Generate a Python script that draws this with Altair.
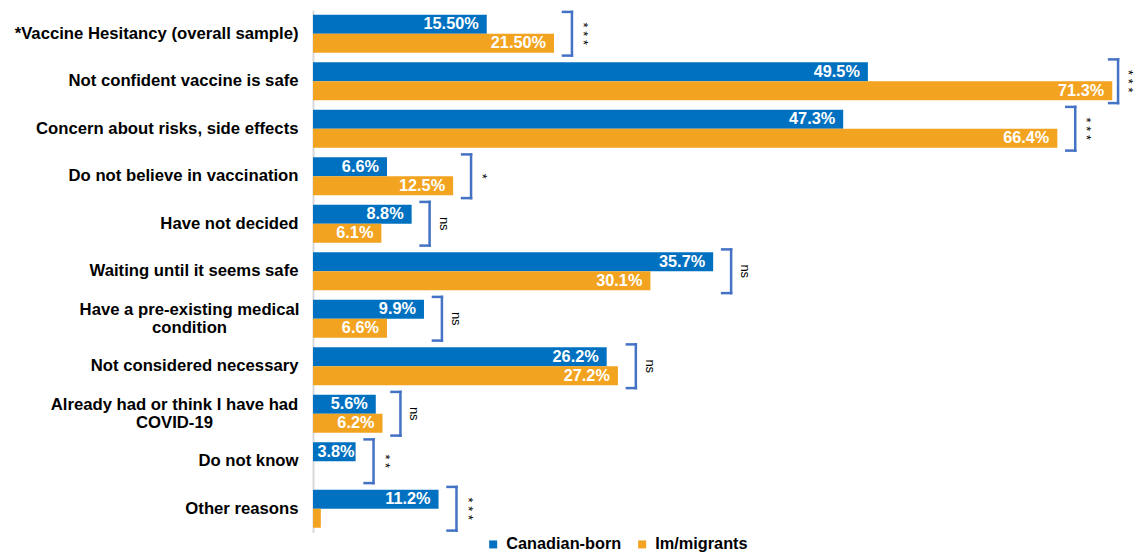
import altair as alt
import pandas as pd

categories = [
    "*Vaccine Hesitancy (overall sample)",
    "Not confident vaccine is safe",
    "Concern about risks, side effects",
    "Do not believe in vaccination",
    "Have not decided",
    "Waiting until it seems safe",
    "Have a pre-existing medical|condition",
    "Not considered necessary",
    "Already had or think I have had|COVID-19",
    "Do not know",
    "Other reasons",
]
series = ["Canadian-born", "Im/migrants"]
canadian_born = [15.5, 49.5, 47.3, 6.6, 8.8, 35.7, 9.9, 26.2, 5.6, 3.8, 11.2]
immigrants = [21.5, 71.3, 66.4, 12.5, 6.1, 30.1, 6.6, 27.2, 6.2, None, 0.7]
canadian_labels = ["15.50%", "49.5%", "47.3%", "6.6%", "8.8%", "35.7%", "9.9%", "26.2%", "5.6%", "3.8%", "11.2%"]
immigrant_labels = ["21.50%", "71.3%", "66.4%", "12.5%", "6.1%", "30.1%", "6.6%", "27.2%", "6.2%", "", ""]
significance = ["***", "***", "***", "*", "ns", "ns", "ns", "ns", "ns", "**", "***"]

BLUE = "#0070C0"
ORANGE = "#F2A31F"
BRACKET = "#4472C4"
FONT = "Liberation Sans"
XMAX = 73.42

rows = []
for i, c in enumerate(categories):
    for s, vals, labs in ((series[0], canadian_born, canadian_labels), (series[1], immigrants, immigrant_labels)):
        v = vals[i]
        if v is None:
            continue
        rows.append({"category": c, "series": s, "value": v, "label": labs[i]})
bars_df = pd.DataFrame(rows)
wide_df = bars_df[bars_df["value"] >= 4.5]
narrow_df = bars_df[bars_df["value"] < 4.5]

brk = []
for i, c in enumerate(categories):
    vals = [v for v in (canadian_born[i], immigrants[i]) if v is not None]
    sig = significance[i]
    gap = 1.0 if sig.startswith("*") else 1.25
    bx = max(vals) + 1.6
    tx = bx + gap
    if tx > XMAX - 0.7:  # keep the annotation inside the drawing
        tx = XMAX - 0.7
        bx = tx - 0.9
    txt = " ".join(list(sig)) if sig.startswith("*") else sig
    brk.append({"category": c, "bx": bx, "bl": bx - 0.8, "tx": tx, "sig": txt})
brk_df = pd.DataFrame(brk)

two_line_a = categories[6]
two_line_b = categories[8]


def ycat(bp=None):
    kw = {}
    if bp is not None:
        kw["bandPosition"] = bp
    return alt.Y(
        "category:N",
        sort=categories,
        scale=alt.Scale(paddingInner=0, paddingOuter=0),
        axis=alt.Axis(
            title=None,
            ticks=False,
            labelExpr="split(datum.label, '|')",
            labelFont=FONT,
            labelFontSize=16.7,
            labelFontWeight="bold",
            labelColor="black",
            labelAlign={
                "condition": {"test": "indexof(datum.value, '|') >= 0", "value": "center"},
                "value": "right",
            },
            labelPadding={
                "condition": [
                    {"test": f"datum.value == '{two_line_a}'", "value": 124},
                    {"test": f"datum.value == '{two_line_b}'", "value": 139},
                ],
                "value": 15,
            },
            labelOffset={
                "condition": {"test": "indexof(datum.value, '|') >= 0", "value": -9},
                "value": 0,
            },
            labelLimit=400,
            labelLineHeight=18.3,
            domainColor="#D9D9D9",
            domainWidth=2,
            grid=False,
        ),
        **kw,
    )


xscale = alt.Scale(domain=[0, XMAX], nice=False, zero=True)
yoff = alt.YOffset("series:N", sort=series, scale=alt.Scale(paddingInner=0, paddingOuter=0.25))

bars = alt.Chart(bars_df).mark_bar().encode(
    x=alt.X("value:Q", scale=xscale, axis=None),
    y=ycat(),
    yOffset=yoff,
    color=alt.Color(
        "series:N",
        scale=alt.Scale(domain=series, range=[BLUE, ORANGE]),
        legend=alt.Legend(
            title=None,
            orient="none",
            legendX=172,
            legendY=526,
            direction="horizontal",
            symbolType="square",
            symbolSize=64,
            symbolStrokeWidth=0,
            labelFont=FONT,
            labelFontSize=16.3,
            labelFontWeight="bold",
            labelColor="black",
            labelOffset=5,
            columnPadding=12,
            padding=0,
        ),
    ),
)

label_style = dict(align="right", baseline="middle", color="white",
                   font=FONT, fontSize=16.3, fontWeight="bold")
labels = alt.Chart(wide_df).mark_text(dx=-8, **label_style).encode(
    x=alt.X("value:Q", scale=xscale, axis=None),
    y=ycat(),
    yOffset=yoff,
    text="label:N",
)
labels_narrow = alt.Chart(narrow_df).mark_text(dx=-1, **label_style).encode(
    x=alt.X("value:Q", scale=xscale, axis=None),
    y=ycat(),
    yOffset=yoff,
    text="label:N",
)

rule_style = dict(color=BRACKET, strokeWidth=2.5, strokeCap="square")
vline = alt.Chart(brk_df).mark_rule(**rule_style).encode(
    x=alt.X("bx:Q", scale=xscale, axis=None),
    y=ycat(0.04),
    y2=alt.Y2("category:N", bandPosition=0.96),
)
top_arm = alt.Chart(brk_df).mark_rule(**rule_style).encode(
    x=alt.X("bl:Q", scale=xscale, axis=None),
    x2="bx:Q",
    y=ycat(0.04),
)
bot_arm = alt.Chart(brk_df).mark_rule(**rule_style).encode(
    x=alt.X("bl:Q", scale=xscale, axis=None),
    x2="bx:Q",
    y=ycat(0.96),
)
sig_text = alt.Chart(brk_df).mark_text(
    angle=90, align="center", baseline="middle", color="black",
    font=FONT, fontSize=13,
).encode(
    x=alt.X("tx:Q", scale=xscale, axis=None),
    y=ycat(0.5),
    text="sig:N",
)

chart = alt.layer(bars, labels, labels_narrow, vline, top_arm, bot_arm, sig_text).properties(
    width=823,
    height=522.5,
    autosize=alt.AutoSizeParams(type="none"),
    padding={"left": 305, "top": 2, "right": 0, "bottom": 19.5},
).configure_view(stroke=None)

chart.save("out.html", embed_options={"renderer": "svg", "actions": False})
